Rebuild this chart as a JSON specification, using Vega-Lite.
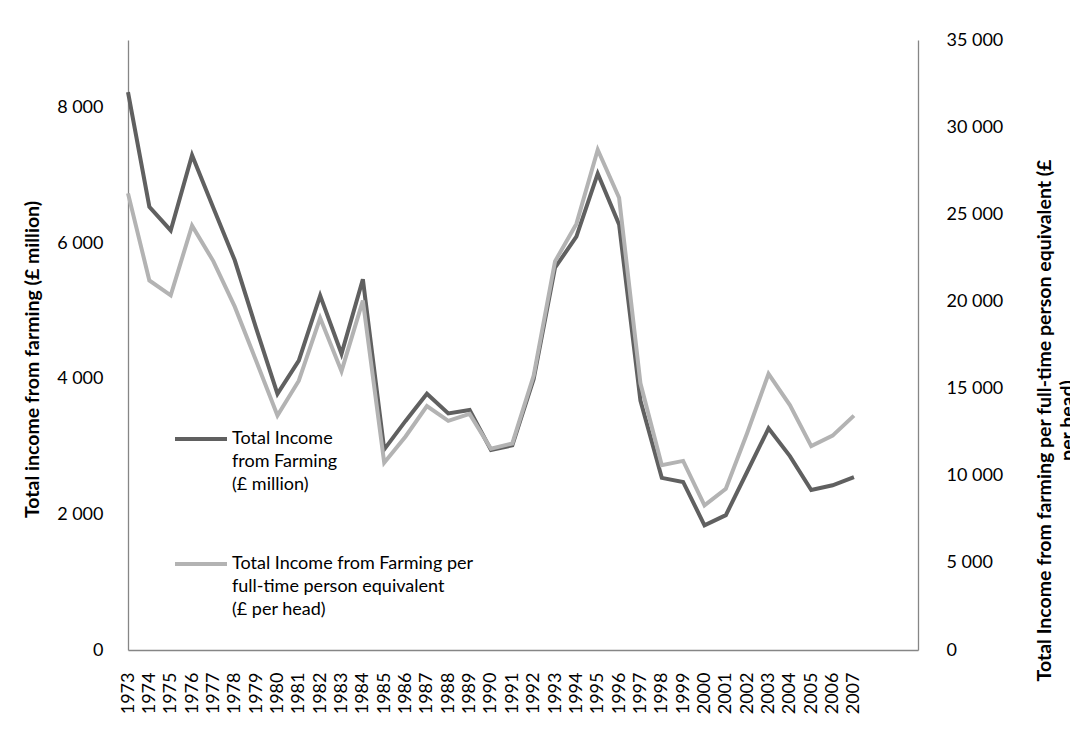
{
  "$schema": "https://vega.github.io/schema/vega-lite/v6.json",
  "autosize": "none",
  "padding": {"left": 128, "top": 40, "right": 152, "bottom": 83},
  "width": 790,
  "height": 610,
  "background": "white",
  "config": {
    "font": "Lato",
    "view": {"stroke": null},
    "axis": {"labelFont": "Lato", "labelFontSize": 18, "labelColor": "#000000", "titleFont": "Lato", "titleFontSize": 19.5, "titleFontWeight": "bold", "titleColor": "#000000", "domainColor": "#868686", "domainWidth": 1.3, "grid": false, "ticks": false}
  },
  "data": {
    "values": [
      {"year": 1973, "farm": 8230, "head": 26200},
      {"year": 1974, "farm": 6540, "head": 21200},
      {"year": 1975, "farm": 6190, "head": 20350},
      {"year": 1976, "farm": 7300, "head": 24350},
      {"year": 1977, "farm": 6520, "head": 22300},
      {"year": 1978, "farm": 5750, "head": 19700},
      {"year": 1979, "farm": 4750, "head": 16600},
      {"year": 1980, "farm": 3780, "head": 13450},
      {"year": 1981, "farm": 4270, "head": 15450},
      {"year": 1982, "farm": 5230, "head": 19050},
      {"year": 1983, "farm": 4370, "head": 16000},
      {"year": 1984, "farm": 5470, "head": 20050},
      {"year": 1985, "farm": 2960, "head": 10750},
      {"year": 1986, "farm": 3380, "head": 12250},
      {"year": 1987, "farm": 3780, "head": 14000},
      {"year": 1988, "farm": 3490, "head": 13150},
      {"year": 1989, "farm": 3540, "head": 13550},
      {"year": 1990, "farm": 2950, "head": 11550},
      {"year": 1991, "farm": 3020, "head": 11850},
      {"year": 1992, "farm": 4000, "head": 15750},
      {"year": 1993, "farm": 5640, "head": 22300},
      {"year": 1994, "farm": 6100, "head": 24450},
      {"year": 1995, "farm": 7030, "head": 28700},
      {"year": 1996, "farm": 6280, "head": 25950},
      {"year": 1997, "farm": 3680, "head": 15300},
      {"year": 1998, "farm": 2540, "head": 10600},
      {"year": 1999, "farm": 2480, "head": 10850},
      {"year": 2000, "farm": 1840, "head": 8300},
      {"year": 2001, "farm": 1990, "head": 9250},
      {"year": 2002, "farm": 2630, "head": 12450},
      {"year": 2003, "farm": 3270, "head": 15850},
      {"year": 2004, "farm": 2860, "head": 14050},
      {"year": 2005, "farm": 2360, "head": 11700},
      {"year": 2006, "farm": 2430, "head": 12300},
      {"year": 2007, "farm": 2550, "head": 13450}
    ]
  },
  "encoding": {
    "x": {
      "field": "year",
      "type": "quantitative",
      "scale": {"domain": [1973, 2010], "nice": false, "zero": false},
      "axis": {
        "title": null,
        "values": [1973,1974,1975,1976,1977,1978,1979,1980,1981,1982,1983,1984,1985,1986,1987,1988,1989,1990,1991,1992,1993,1994,1995,1996,1997,1998,1999,2000,2001,2002,2003,2004,2005,2006,2007],
        "format": "d",
        "labelAngle": -90,
        "labelAlign": "right",
        "labelBaseline": "middle",
        "labelPadding": 22,
        "labelOverlap": false,
        "labelFlush": false,
        "labelBound": false
      }
    }
  },
  "layer": [
    {
      "mark": {"type": "line", "strokeWidth": 4},
      "encoding": {
        "y": {
          "field": "farm",
          "type": "quantitative",
          "scale": {"domain": [0, 9000], "nice": false},
          "axis": {
            "orient": "left",
            "values": [0, 2000, 4000, 6000, 8000],
            "labelExpr": "replace(format(datum.value, ','), ',', ' ')",
            "labelPadding": 25,
            "title": "Total income from farming (£ million)",
            "titleAngle": -90,
            "titleAlign": "center",
            "titleBaseline": "alphabetic",
            "titleX": -90,
            "titleY": 319
          }
        },
        "color": {
          "datum": "Total Income from Farming (£ million)",
          "type": "nominal",
          "scale": {
            "domain": ["Total Income from Farming (£ million)", "Total Income from Farming per full-time person equivalent (£ per head)"],
            "range": ["#606060", "#b3b3b3"]
          },
          "legend": {
            "title": null,
            "orient": "none",
            "legendX": 45,
            "legendY": 371,
            "symbolType": "stroke",
            "symbolSize": 2704,
            "symbolStrokeWidth": 4,
            "labelFont": "Lato",
            "labelFontSize": 18,
            "labelColor": "#000000",
            "labelOffset": 3,
            "labelLimit": 0,
            "rowPadding": 42,
            "labelBaseline": "middle",
            "labelExpr": "datum.label == 'Total Income from Farming (£ million)' ? ['Total Income', 'from Farming', '(£ million)'] : ['Total Income from Farming per', 'full-time person equivalent', '(£ per head)']",
            "encode": {
              "labels": {"update": {"lineHeight": {"value": 23}}}
            }
          }
        }
      }
    },
    {
      "mark": {"type": "line", "strokeWidth": 4},
      "encoding": {
        "y": {
          "field": "head",
          "type": "quantitative",
          "scale": {"domain": [0, 35000], "nice": false},
          "axis": {
            "orient": "right",
            "values": [0, 5000, 10000, 15000, 20000, 25000, 30000, 35000],
            "labelExpr": "replace(format(datum.value, ','), ',', ' ')",
            "labelPadding": 28,
            "title": ["Total Income from farming per full-time person equivalent (£", "per head)"],
            "titleAngle": -90,
            "titleAlign": "center",
            "titleBaseline": "alphabetic",
            "titleLineHeight": 23,
            "titleX": 132,
            "titleY": 380
          }
        },
        "color": {
          "datum": "Total Income from Farming per full-time person equivalent (£ per head)",
          "type": "nominal"
        }
      }
    }
  ],
  "resolve": {"scale": {"y": "independent"}}
}
